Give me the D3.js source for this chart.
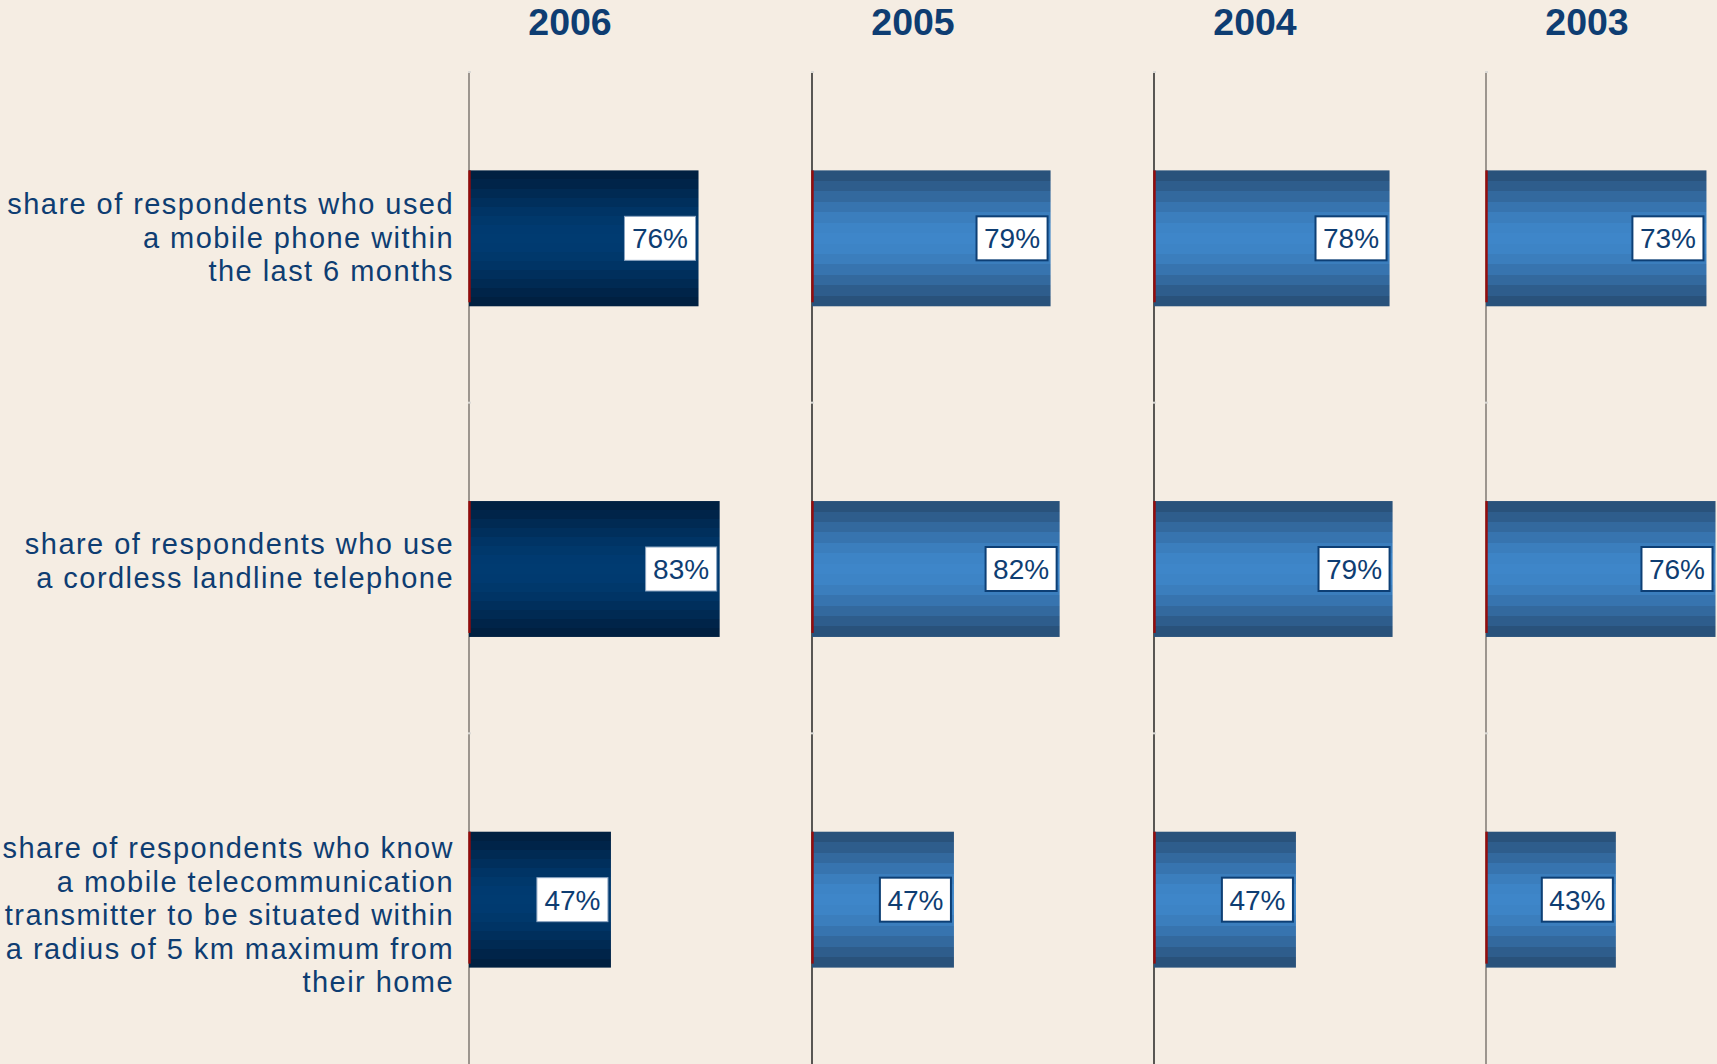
<!DOCTYPE html>
<html>
<head>
<meta charset="utf-8">
<script src="https://cdn.jsdelivr.net/npm/d3@7"></script>
<style>
  html, body { margin: 0; padding: 0; background: #f5ede3; overflow: hidden; }
  svg { display: block; font-family: 'Liberation Sans', Arial, sans-serif; }
</style>
</head>
<body>
<div id="app"></div>
<script>
// data
const years = ['2006', '2005', '2004', '2003'];
const categories = [
  ['share of respondents who used', 'a mobile phone within', 'the last 6 months'],
  ['share of respondents who use', 'a cordless landline telephone'],
  ['share of respondents who know', 'a mobile telecommunication', 'transmitter to be situated within',
   'a radius of 5 km maximum from', 'their home']
];
const values2006 = [76, 83, 47];
const values2005 = [79, 82, 47];
const values2004 = [78, 79, 47];
const values2003 = [73, 76, 43];

const series = [values2006, values2005, values2004, values2003]
  .map((values, i) => ({ year: years[i], values }));

// layout
const width = 1717;
const height = 1064;
const textColor = '#0e3d72';
const lineHeight = 33.6;
const labelShift = [0, -7.5, 16];

const svg = d3.select('#app').append('svg')
  .attr('width', width)
  .attr('height', height);

svg.append('rect')
  .attr('width', width)
  .attr('height', height)
  .attr('fill', '#f5ede3');

// the last panel is a little narrower in the original
const panelX = d3.scaleOrdinal()
  .domain(years)
  .range([469, 812, 1154, 1486]);

const x = d3.scaleLinear()
  .domain([0, 100])
  .range([0, 302]);

const y = d3.scaleBand()
  .domain(d3.range(categories.length))
  .range([73, 1065])
  .paddingInner(0.589)
  .paddingOuter(0.2945);

// stepped vertical gradients like the original export
const defs = svg.append('defs');
const stepGradient = (id, edge, mid, n) => {
  const grad = defs.append('linearGradient')
    .attr('id', id)
    .attr('x1', 0).attr('y1', 0)
    .attr('x2', 0).attr('y2', 1);
  const interp = d3.interpolateRgb(edge, mid);
  for (let i = 0; i < n; i++) {
    const c = interp(Math.pow(Math.sin(Math.PI * (i + 0.5) / n), 1.3));
    grad.append('stop').attr('offset', i / n).attr('stop-color', c);
    grad.append('stop').attr('offset', (i + 1) / n).attr('stop-color', c);
  }
};
stepGradient('grad-dark', '#001e3e', '#003b71', 15);
stepGradient('grad-light', '#284e76', '#3e86c9', 13);

// category labels
const catLabel = svg.append('g')
  .selectAll('text')
  .data(categories)
  .join('text')
  .attr('text-anchor', 'end')
  .attr('fill', textColor)
  .attr('font-size', 29)
  .attr('letter-spacing', 1.45)
  .attr('transform', (d, i) => {
    const cy = y(i) + y.bandwidth() / 2 + labelShift[i];
    return `translate(454, ${cy - (d.length - 1) / 2 * lineHeight + 9.5})`;
  });

catLabel.selectAll('tspan')
  .data(d => d)
  .join('tspan')
  .attr('x', 0)
  .attr('y', (d, i) => i * lineHeight)
  .text(d => d);

// panels
const panel = svg.append('g')
  .selectAll('g')
  .data(series)
  .join('g')
  .attr('transform', d => `translate(${panelX(d.year)}, 0)`);

panel.append('text')
  .attr('x', 101)
  .attr('y', 35)
  .attr('text-anchor', 'middle')
  .attr('font-size', 37.5)
  .attr('font-weight', 'bold')
  .attr('fill', textColor)
  .text(d => d.year);

// axis line with a small light tick at each row boundary
const step = y.step();
panel.each(function (s, pi) {
  const g = d3.select(this);
  const axisColor = (pi === 0 || pi === 3) ? '#77706a' : '#161616';
  g.append('line')
    .attr('x1', 0).attr('x2', 0)
    .attr('y1', 71).attr('y2', height)
    .attr('stroke', axisColor)
    .attr('stroke-width', 1.4);
  categories.forEach((_, i) => {
    const top = i === 0 ? 71 : y(i) - y.paddingInner() * step / 2 - 2;
    g.append('rect')
      .attr('x', -1).attr('y', top)
      .attr('width', 3).attr('height', 2)
      .attr('fill', '#dcdad6');
  });
});

const bar = panel.selectAll('g.bar')
  .data((s, pi) => s.values.map((v, i) => ({ v, i, dark: pi === 0 })))
  .join('g')
  .attr('class', 'bar')
  .attr('transform', d => `translate(0, ${y(d.i)})`);

bar.append('rect')
  .attr('x', 0)
  .attr('width', d => x(d.v))
  .attr('height', y.bandwidth())
  .attr('fill', d => d.dark ? 'url(#grad-dark)' : 'url(#grad-light)');

bar.append('line')
  .attr('x1', 0.5).attr('x2', 0.5)
  .attr('y1', 0).attr('y2', y.bandwidth() - 4)
  .attr('stroke', '#970b0b')
  .attr('stroke-width', 2.4);

const valueText = bar.append('text')
  .attr('text-anchor', 'middle')
  .attr('font-size', 28)
  .attr('fill', textColor)
  .attr('y', y.bandwidth() / 2 + 10)
  .text(d => d.v + '%');

valueText.each(function (d) {
  const w = this.getComputedTextLength() + 15;
  const right = x(d.v) - 3;
  d3.select(this).attr('x', right - w / 2);
  d3.select(this.parentNode).insert('rect', 'text')
    .attr('x', right - w)
    .attr('y', y.bandwidth() / 2 - 22)
    .attr('width', w)
    .attr('height', 44)
    .attr('fill', '#fff')
    .attr('stroke', d.dark ? '#8aa3c0' : '#0d3f75')
    .attr('stroke-width', d.dark ? 1 : 2);
});
</script>
</body>
</html>
